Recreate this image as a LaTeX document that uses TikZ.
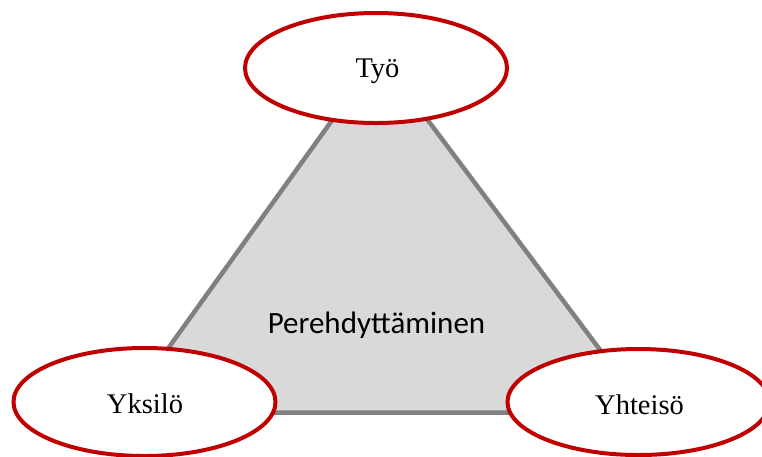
\documentclass[tikz,border=0pt]{standalone}
\usepackage{fontspec}
\setmainfont{Liberation Serif}
\newfontfamily\calibfont{Carlito}
\usetikzlibrary{shapes.geometric}
\definecolor{ellred}{HTML}{C00000}
\definecolor{trifill}{HTML}{D9D9D9}
\definecolor{triline}{HTML}{808080}
\begin{document}
\begin{tikzpicture}[x=1pt,y=-1pt,
  ellbox/.style={ellipse, draw=ellred, line width=4pt, fill=white, inner sep=0pt,
    minimum width=262pt, minimum height=108pt},
  elltext/.style={anchor=base, inner sep=0pt, font=\fontsize{28.5}{30}\selectfont},
  centertext/.style={anchor=base, inner sep=0pt, font=\calibfont\fontsize{31}{33}\selectfont},
  triangleshape/.style={fill=trifill, draw=triline, line width=4.5pt, line join=miter}]
\useasboundingbox (0,0) rectangle (762,456);
\coordinate (apex) at (379,55);
\coordinate (bl) at (122,412.5);
\coordinate (br) at (647,412.5);
\draw[triangleshape] (apex) -- (br) -- (bl) -- cycle;
\node[centertext] (pere) at (376.5,333) {Perehdyttäminen};
\node[ellbox, minimum height=110pt] (tyo) at (376,68) {};
\node[ellbox] (yksilo) at (144.5,402) {};
\node[ellbox, minimum height=106pt] (yhteiso) at (638.5,402) {};
\node[elltext] (tyot) at (377.5,77) {Työ};
\node[elltext] (yksilot) at (145,413) {Yksilö};
\node[elltext] (yhteisot) at (639.5,414) {Yhteisö};
\end{tikzpicture}
\end{document}
